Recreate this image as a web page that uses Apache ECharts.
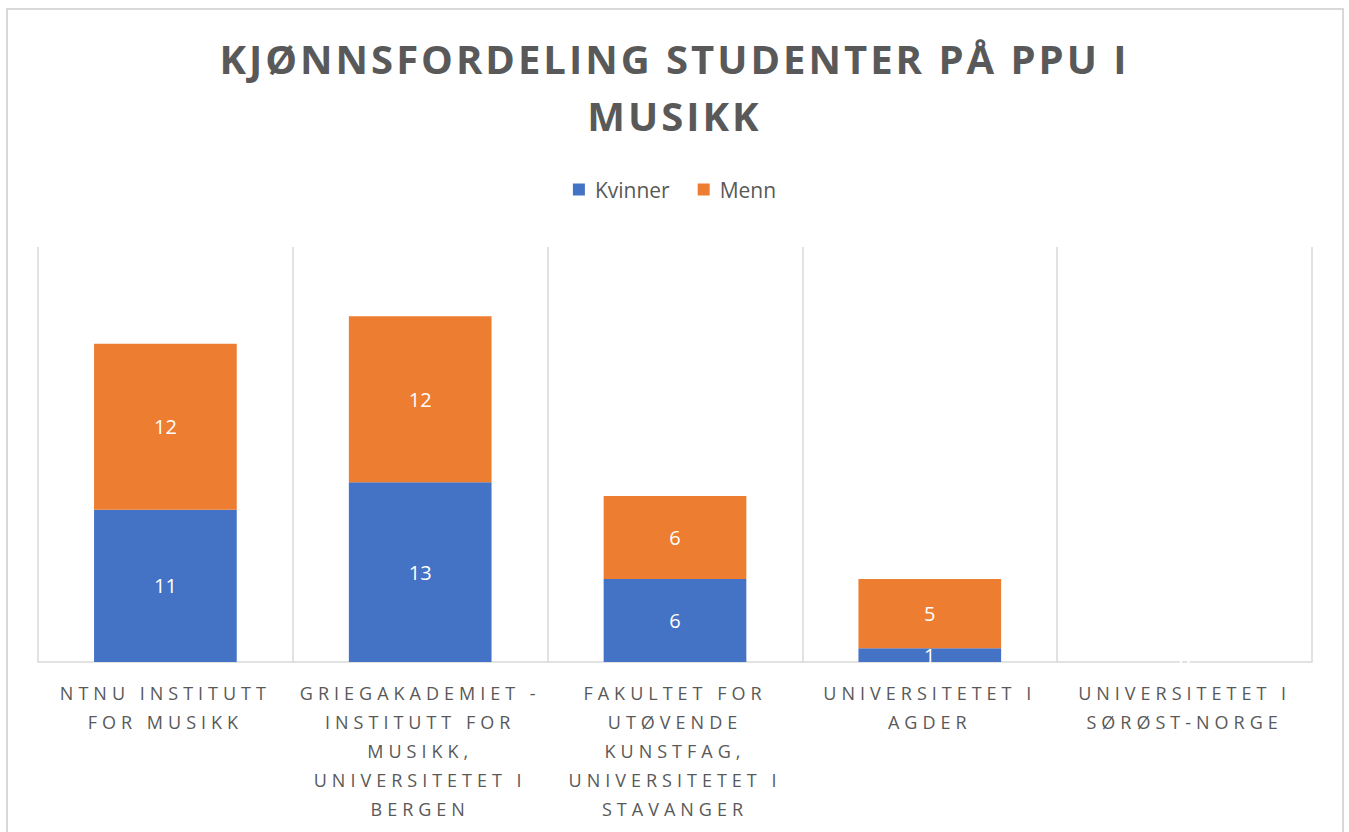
<!DOCTYPE html>
<html>
<head>
<meta charset="utf-8">
<script src="https://cdn.jsdelivr.net/npm/echarts@6/dist/echarts.min.js"></script>
<style>
html,body{margin:0;padding:0;background:#fff;}
#chart{width:1349px;height:832px;}
#chart text[style*="40px"]{letter-spacing:3px;}
#chart text[style*="18px"]{letter-spacing:5px;}
</style>
</head>
<body>
<div id="chart"></div>
<script>
const titleText = 'KJØNNSFORDELING STUDENTER PÅ PPU I\nMUSIKK';
const categories = [
  'NTNU INSTITUTT\nFOR MUSIKK',
  'GRIEGAKADEMIET -\nINSTITUTT FOR\nMUSIKK,\nUNIVERSITETET I\nBERGEN',
  'FAKULTET FOR\nUTØVENDE\nKUNSTFAG,\nUNIVERSITETET I\nSTAVANGER',
  'UNIVERSITETET I\nAGDER',
  'UNIVERSITETET I\nSØRØST-NORGE'
];
const seriesNames = ['Kvinner', 'Menn'];
const kvinner = [11, 13, 6, 1, 0];
const menn = [12, 12, 6, 5, 0];

const chart = echarts.init(document.getElementById('chart'), null, {renderer: 'svg'});
const font = "'Open Sans', sans-serif";
chart.setOption({
  animation: false,
  title: {
    text: titleText,
    left: 'center',
    top: 25,
    textStyle: {fontFamily: font, fontSize: 40, fontWeight: 'bold', color: '#595959', lineHeight: 57}
  },
  legend: {
    data: seriesNames,
    top: 174,
    left: 'center',
    icon: 'rect',
    itemWidth: 12,
    itemHeight: 12,
    itemGap: 28,
    textStyle: {fontFamily: font, fontSize: 21, color: '#595959', padding: [0, 0, 0, 5]}
  },
  graphic: [{
    type: 'rect',
    shape: {x: 7, y: 9, width: 1336, height: 840},
    style: {fill: 'none', stroke: '#d9d9d9', lineWidth: 2},
    silent: true,
    z: -1
  }],
  grid: {left: 38, right: 37, top: 247, bottom: 170, containLabel: false},
  xAxis: {
    type: 'category',
    data: categories,
    axisLine: {lineStyle: {color: '#d9d9d9', width: 1.5}},
    axisTick: {show: false},
    splitLine: {show: true, lineStyle: {color: '#d9d9d9', width: 1.5}},
    axisLabel: {fontFamily: font, fontSize: 18, color: '#595959', lineHeight: 29, margin: 16, interval: 0}
  },
  yAxis: {
    type: 'value',
    min: 0,
    max: 30,
    show: false
  },
  series: [
    {
      name: seriesNames[0], type: 'bar', stack: 'total', data: kvinner,
      barWidth: '56%',
      itemStyle: {color: '#4472C4'},
      label: {show: true, position: 'inside', color: '#fff', fontFamily: font, fontSize: 20}
    },
    {
      name: seriesNames[1], type: 'bar', stack: 'total', data: menn,
      barWidth: '56%',
      itemStyle: {color: '#ED7D31'},
      label: {show: true, position: 'inside', color: '#fff', fontFamily: font, fontSize: 20}
    }
  ]
});
</script>
</body>
</html>
